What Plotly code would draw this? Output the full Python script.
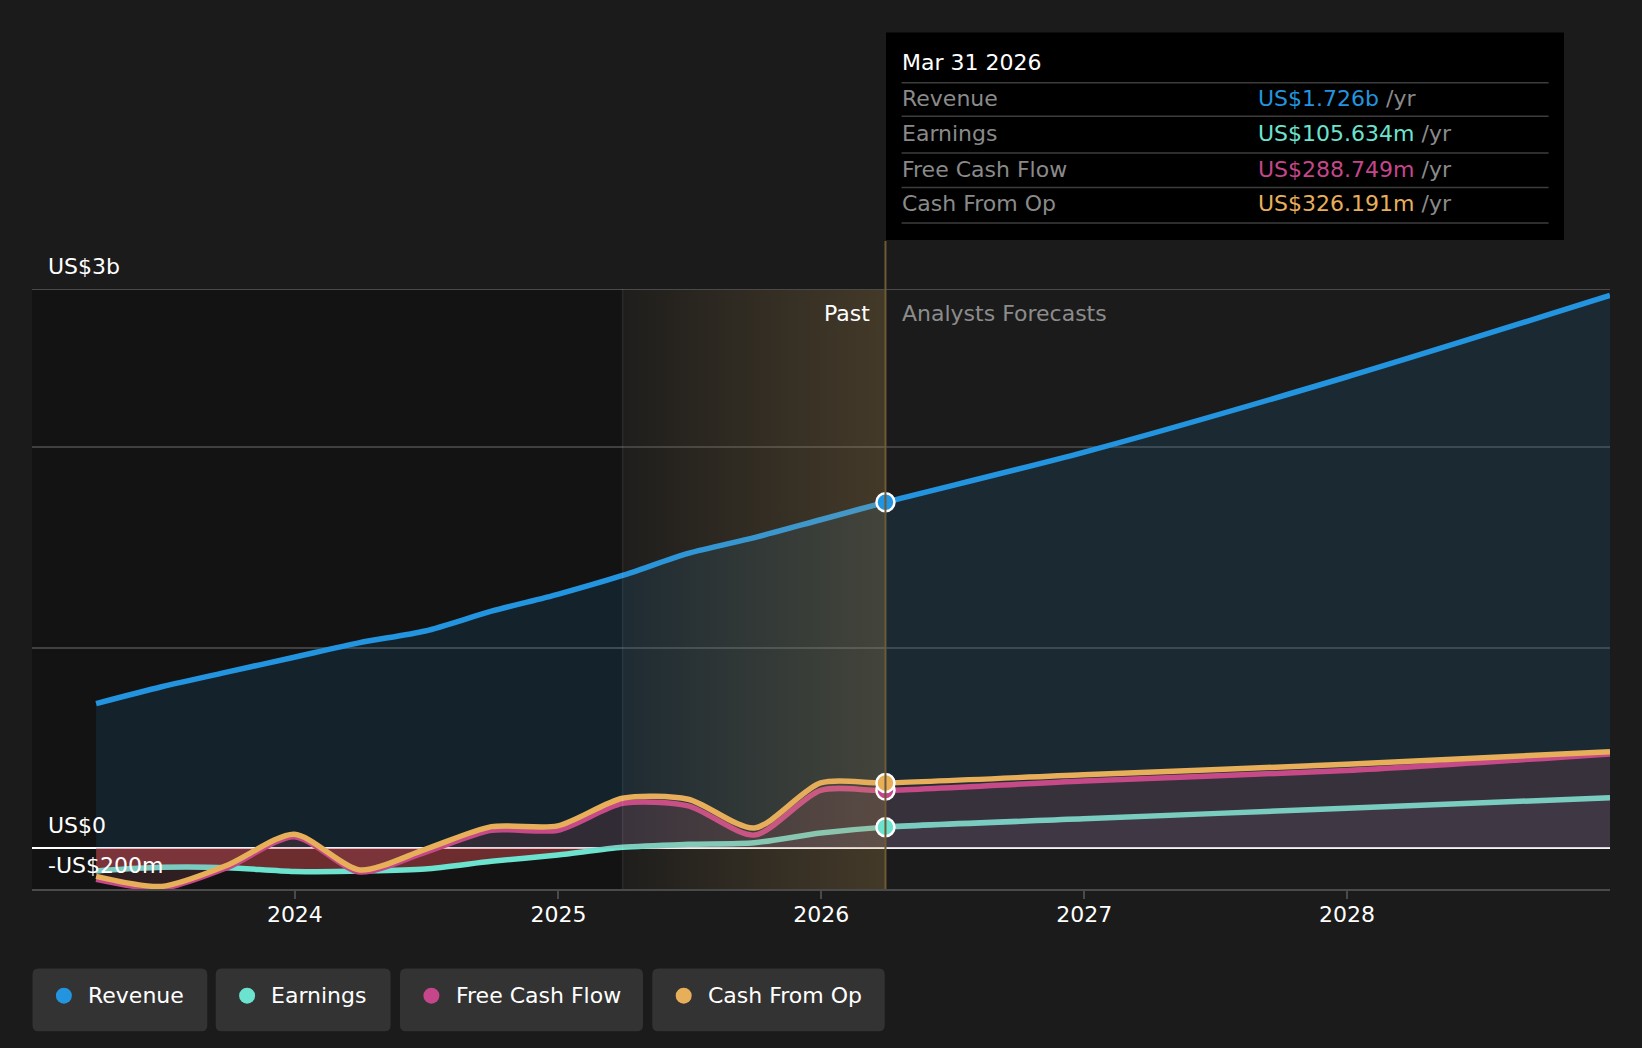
import plotly.graph_objects as go
import numpy as np

# quarterly history (US$ billions) and analyst forecasts
past_dates = ['2023-03-31', '2023-06-30', '2023-09-30', '2023-12-31',
              '2024-03-31', '2024-06-30', '2024-09-30', '2024-12-31',
              '2025-03-31', '2025-06-30', '2025-09-30', '2025-12-31',
              '2026-03-31']
fc_dates = ['2026-12-31', '2027-12-31', '2028-12-31']

revenue_past = [0.722, 0.806, 0.880, 0.953, 1.026, 1.084, 1.183, 1.267,
                1.361, 1.471, 1.550, 1.639, 1.726]
earnings_past = [-0.113, -0.095, -0.097, -0.116, -0.113, -0.103, -0.065, -0.033,
                 0.005, 0.020, 0.028, 0.076, 0.105634]
fcf_past = [-0.155, -0.200, -0.095, 0.058, -0.118, -0.020, 0.090, 0.090,
            0.224, 0.212, 0.066, 0.289, 0.288749]
cfo_past = [-0.140, -0.190, -0.083, 0.070, -0.108, -0.005, 0.108, 0.112,
            0.250, 0.245, 0.101, 0.326, 0.326191]

revenue_fc = [1.975, 2.351, 2.758]
earnings_fc = [0.147, 0.200, 0.252]
fcf_fc = [0.336, 0.388, 0.471]
cfo_fc = [0.367, 0.419, 0.482]

x_ticks = ['2024-01-01', '2025-01-01', '2026-01-01', '2027-01-01', '2028-01-01']
x_tick_text = ['2024', '2025', '2026', '2027', '2028']
x_range = ['2023-01-01', '2028-12-31']
y_range = [-0.203, 2.79]
past_start = '2025-03-31'
past_end = '2026-03-31'

names = ['Revenue', 'Earnings', 'Free Cash Flow', 'Cash From Op']
colors = ['#2394DF', '#6CE3CF', '#C5468A', '#E8AF5B']

W, H = 1642, 1048
L, R, T, B = 32, 32, 289, 159
PW, PH = W - L - R, H - T - B


def px_x(x):
    return (x - L) / PW


def px_y(y):
    return (H - B - y) / PH


def money(v):
    if abs(v) >= 1:
        return f'US${v:.3f}b'
    return f'US${v * 1000:.3f}m'


def rounded_rect(x0, y0, x1, y1, r):
    rx, ry = r / PW, r / PH
    a, b, c, d = px_x(x0), px_y(y1), px_x(x1), px_y(y0)
    return (f'M {a + rx},{b} L {c - rx},{b} Q {c},{b} {c},{b + ry} '
            f'L {c},{d - ry} Q {c},{d} {c - rx},{d} L {a + rx},{d} '
            f'Q {a},{d} {a},{d - ry} L {a},{b + ry} Q {a},{b} {a + rx},{b} Z')


x_all = past_dates + fc_dates
revenue = revenue_past + revenue_fc
earnings = earnings_past + earnings_fc
fcf = fcf_past + fcf_fc
cfo = cfo_past + cfo_fc

SM = 0.75
fig = go.Figure()

fig.add_trace(go.Scatter(x=x_all, y=revenue, mode='lines', line_shape='spline',
                         line=dict(color=colors[0], width=5.5, smoothing=SM),
                         fill='tozeroy', fillcolor='rgba(35,148,223,0.12)'))
fig.add_trace(go.Scatter(x=x_all, y=np.minimum(np.array(earnings), 0), mode='lines',
                         line_shape='spline', line=dict(width=0, smoothing=SM),
                         fill='tozeroy', fillcolor='rgba(225,55,60,0.42)'))
fig.add_trace(go.Scatter(x=x_all, y=earnings, mode='lines', line_shape='spline',
                         line=dict(color=colors[1], width=5.5, smoothing=SM),
                         fill='tozeroy', fillcolor='rgba(170,170,170,0.08)'))
fig.add_trace(go.Scatter(x=x_all, y=fcf, mode='lines', line_shape='spline',
                         line=dict(color=colors[2], width=5.5, smoothing=SM),
                         fill='tozeroy', fillcolor='rgba(197,70,120,0.13)'))
fig.add_trace(go.Scatter(x=x_all, y=cfo, mode='lines', line_shape='spline',
                         line=dict(color=colors[3], width=5.5, smoothing=SM),
                         fill='tozeroy', fillcolor='rgba(232,175,91,0.04)'))

# golden band over the last year of history
fig.add_trace(go.Scatter(x=[past_start, past_end, past_end, past_start, past_start],
                         y=[y_range[0], y_range[0], y_range[1], y_range[1], y_range[0]],
                         mode='lines', line=dict(width=0), fill='toself',
                         fillgradient=dict(type='horizontal',
                                           colorscale=[[0, 'rgba(220,170,90,0.02)'],
                                                       [1, 'rgba(210,165,90,0.22)']])))

last = [revenue_past[-1], earnings_past[-1], fcf_past[-1], cfo_past[-1]]
for i in [0, 1, 2, 3]:
    fig.add_trace(go.Scatter(x=[past_dates[-1]], y=[last[i]], mode='markers',
                             marker=dict(size=18, color=colors[i],
                                         line=dict(color='white', width=2.5))))

shapes = [
    dict(type='rect', xref='x', yref='paper', x0=x_range[0], x1=past_start, y0=0, y1=1,
         fillcolor='#131313', line_width=0, layer='below'),
    dict(type='line', xref='paper', yref='y', x0=0, x1=1, y0=y_range[1], y1=y_range[1],
         line=dict(color='#4a4a4a', width=2)),
    dict(type='line', xref='x', yref='paper', x0=past_start, x1=past_start, y0=0, y1=1,
         line=dict(color='rgba(255,255,255,0.08)', width=1.5)),
    dict(type='line', xref='x', yref='paper', x0=past_end, x1=past_end, y0=0, y1=px_y(241),
         line=dict(color='#6e5a35', width=2)),
    dict(type='rect', xref='paper', yref='paper', x0=px_x(886), x1=px_x(1564),
         y0=px_y(240), y1=px_y(32.5), fillcolor='#000000', line_width=0),
]
for ly in [82.7, 116.2, 152.9, 187.4, 223]:
    shapes.append(dict(type='line', xref='paper', yref='paper', x0=px_x(901.6), x1=px_x(1548.6),
                       y0=px_y(ly), y1=px_y(ly), line=dict(color='#3d3d3d', width=1.5)))

annotations = [
    dict(text='Mar 31 2026', x=899.5, y=62.8, font=dict(color='#ffffff')),
    dict(text='Past', x=872, y=313, xanchor='right', font=dict(color='#ffffff')),
    dict(text='Analysts Forecasts', x=899.5, y=313, font=dict(color='#8c8c8c')),
    dict(text='US$3b', x=46, y=266, font=dict(color='#ffffff')),
    dict(text='US$0', x=46, y=825, font=dict(color='#ffffff')),
    dict(text='-US$200m', x=46, y=865, font=dict(color='#ffffff')),
]
for i, ry in enumerate([98, 133, 169, 203.5]):
    annotations.append(dict(text=names[i], x=899.5, y=ry, font=dict(color='#8a8a8a')))
    annotations.append(dict(text=f"<span style='color:{colors[i]}'>{money(last[i])}</span> /yr",
                            x=1255.5, y=ry, font=dict(color='#8a8a8a')))

# legend chips
boxes = [(32.5, 207.3), (215.7, 390.6), (400, 643), (652.3, 884.7)]
for i, (bx0, bx1) in enumerate(boxes):
    shapes.append(dict(type='path', xref='paper', yref='paper',
                       path=rounded_rect(bx0, 968.5, bx1, 1031.3, 6),
                       fillcolor='#333333', line_width=0))
    shapes.append(dict(type='circle', xref='paper', yref='paper', xsizemode='pixel',
                       ysizemode='pixel', xanchor=px_x(bx0 + 31.4), yanchor=px_y(995.7),
                       x0=-8, x1=8, y0=-8, y1=8, fillcolor=colors[i], line_width=0))
    annotations.append(dict(text=names[i], x=bx0 + 53.5, y=995.7,
                            font=dict(color='#ffffff')))

for a in annotations:
    a.update(x=px_x(a['x']), y=px_y(a['y']), xref='paper', yref='paper',
             showarrow=False, yanchor='middle')
    a.setdefault('xanchor', 'left')

fig.update_layout(
    width=W, height=H,
    margin=dict(l=L, r=R, t=T, b=B),
    paper_bgcolor='#1b1b1b', plot_bgcolor='#1b1b1b',
    font=dict(family='DejaVu Sans', size=22, color='#ffffff'),
    showlegend=False, hovermode=False,
    shapes=shapes, annotations=annotations,
)
fig.update_xaxes(range=x_range, tickvals=x_ticks, ticktext=x_tick_text,
                 showgrid=False, showline=True, linecolor='#4a4a4a', linewidth=2,
                 ticks='outside', ticklen=8, tickwidth=2, tickcolor='#4a4a4a',
                 ticklabelstandoff=-3,
                 tickfont=dict(color='#ffffff'), zeroline=False)
fig.update_yaxes(range=y_range, tickvals=[1, 2], showticklabels=False,
                 gridcolor='#404040', gridwidth=1.5, zeroline=True,
                 zerolinecolor='#ffffff', zerolinewidth=2)

fig.write_html('out.html', config={'displayModeBar': False},
               post_script="document.body.style.margin='0';"
                           "document.body.style.background='#1b1b1b';")
